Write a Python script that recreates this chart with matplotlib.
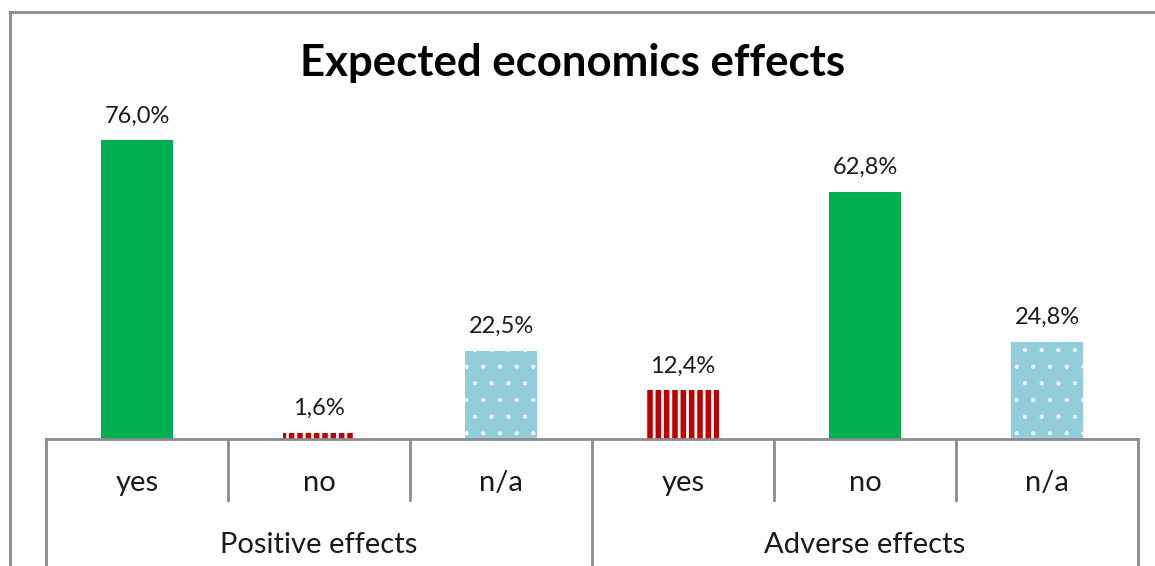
import matplotlib
matplotlib.use("Agg")
import matplotlib.pyplot as plt
from matplotlib.lines import Line2D

plt.rcParams['font.family'] = ['Lato', 'DejaVu Sans']

title = "Expected economics effects"
groups = ["Positive effects", "Adverse effects"]
answers = ["yes", "no", "n/a", "yes", "no", "n/a"]
values = [76.0, 1.6, 22.5, 12.4, 62.8, 24.8]
fills = ["#00B050", "#C00000", "#92CDDC", "#C00000", "#00B050", "#92CDDC"]
hatches = [None, "||", ".", "||", None, "."]

W, H = 1155, 566
fig = plt.figure(figsize=(W / 100, H / 100), dpi=100)

left, right, base, top = 46, 1138, 439, 100
ax = fig.add_axes([left / W, (H - base) / H, (right - left) / W, (base - top) / H])
ymax = (base - top) / 3.93
ax.set_ylim(0, ymax)
ax.set_xlim(-0.5, len(values) - 0.5)

text_color = "#1a1a1a"
x = list(range(len(values)))
for xi, v, c, h in zip(x, values, fills, hatches):
    hlw = 2.0 if h == "||" else 0.6
    with plt.rc_context({"hatch.linewidth": hlw}):
        ax.bar(xi, v, width=0.4, color=c,
               edgecolor=("#f4f8fa" if h == "." else "white") if h else c,
               linewidth=0, hatch=h)
    ax.annotate(f"{v:.1f}".replace(".", ",") + "%", (xi, v),
                xytext=(0, 10), textcoords="offset points",
                ha="center", va="bottom", fontsize=17, color=text_color)

for s in ax.spines.values():
    s.set_visible(False)
ax.set_xticks([])
ax.set_yticks([])

# two-level category axis
axis_color = "#8c8c8c"
tr = ax.get_xaxis_transform()
ax.add_line(Line2D([-0.5, len(values) - 0.5], [0, 0], transform=tr,
                   color=axis_color, lw=2, clip_on=False))
inner_depth = -(500 - base) / (base - top)
outer_depth = -(H - base) / (base - top)
for b in range(len(values) + 1):
    xb = b - 0.5
    depth = outer_depth if b % 3 == 0 else inner_depth
    ax.add_line(Line2D([xb, xb], [0, depth], transform=tr,
                       color=axis_color, lw=2, clip_on=False))

ans_y = -(483 - base) / (base - top)
grp_y = -(545 - base) / (base - top)
for xi, a in zip(x, answers):
    ax.text(xi, ans_y, a, transform=tr, ha="center", va="center",
            fontsize=21, color=text_color)
for gi, g in enumerate(groups):
    ax.text(gi * 3 + 1, grp_y, g, transform=tr, ha="center", va="center",
            fontsize=21, color=text_color)

fig.text(573 / W, 1 - 63 / H, title, ha="center", va="center",
         fontsize=31.5, fontweight="bold", color="black")

# chart area frame
fig.add_artist(Line2D([10 / W, 10 / W], [0, 1 - 12 / H], transform=fig.transFigure,
                      color=axis_color, lw=2))
fig.add_artist(Line2D([10 / W, 1154 / W], [1 - 12 / H, 1 - 12 / H],
                      transform=fig.transFigure, color=axis_color, lw=2))

fig.savefig("out.png", dpi=100, facecolor="white")
